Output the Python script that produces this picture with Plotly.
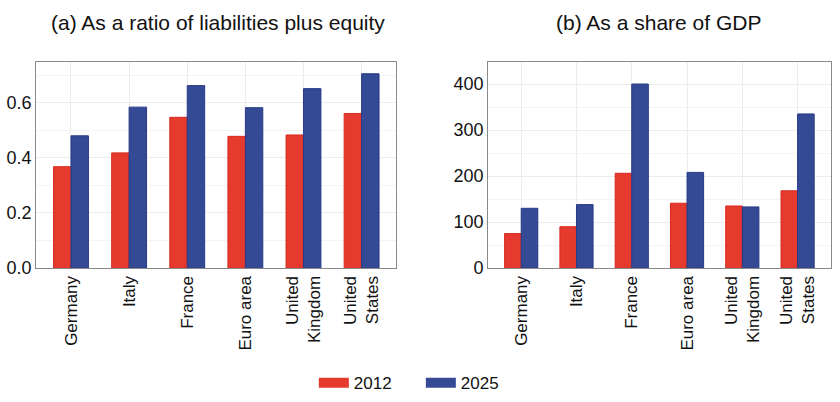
import plotly.graph_objects as go

categories = ["Germany", "Italy", "France", "Euro area", "United<br>Kingdom", "United<br>States"]
ratio_2012 = [0.368, 0.418, 0.547, 0.478, 0.483, 0.561]
ratio_2025 = [0.480, 0.584, 0.662, 0.582, 0.651, 0.705]
gdp_2012 = [75, 90, 206, 141, 135, 168]
gdp_2025 = [130, 138, 400, 208, 133, 335]
years = ["2012", "2025"]

RED = "#e63a2e"
BLUE = "#354a95"
RED_EDGE = "#d62a20"
BLUE_EDGE = "#263a88"
FONT = "Liberation Sans, Arial, sans-serif"

fig = go.Figure()
for vals, color, edge, xa, ya in [
    (ratio_2012, RED, RED_EDGE, "x", "y"),
    (ratio_2025, BLUE, BLUE_EDGE, "x", "y"),
    (gdp_2012, RED, RED_EDGE, "x2", "y2"),
    (gdp_2025, BLUE, BLUE_EDGE, "x2", "y2"),
]:
    fig.add_trace(go.Bar(x=categories, y=vals, showlegend=False,
                         marker=dict(color=color, line=dict(color=edge, width=1)),
                         xaxis=xa, yaxis=ya))

# legend entries (wide rectangular swatches)
for name, color in zip(years, [RED, BLUE]):
    fig.add_trace(go.Scatter(x=[None], y=[None], mode="lines", name=name,
                             line=dict(color=color, width=11), xaxis="x", yaxis="y"))

axis_common = dict(showline=True, mirror=True, linecolor="#8a8a8a", linewidth=1,
                   gridcolor="#ececec", ticks="", automargin=False)
xcommon = dict(axis_common, tickangle=-90, showgrid=True, fixedrange=True,
               range=[-0.6, 5.6], tickfont=dict(size=17, color="#111"))
ycommon = dict(axis_common, tickfont=dict(size=18, color="#111"), showgrid=True, zeroline=False)

fig.update_layout(
    width=840, height=402,
    margin=dict(l=0, r=0, t=0, b=0, autoexpand=False),
    paper_bgcolor="white", plot_bgcolor="white",
    font=dict(family=FONT, size=17, color="#111"),
    barmode="group", bargap=0.4, bargroupgap=0,
    xaxis=dict(xcommon, domain=[0.043, 0.472], anchor="y"),
    yaxis=dict(ycommon, domain=[0.333, 0.846], anchor="x", range=[0, 0.748],
               dtick=0.2, tickformat=".1f",
               minor=dict(dtick=0.1, showgrid=True, gridcolor="#f4f4f4")),
    xaxis2=dict(xcommon, domain=[0.581, 0.989], anchor="y2"),
    yaxis2=dict(ycommon, domain=[0.333, 0.846], anchor="x2", range=[0, 448],
                dtick=100,
                minor=dict(dtick=50, showgrid=True, gridcolor="#f4f4f4")),
    legend=dict(orientation="h", x=0.501, xanchor="center", y=0.047, yanchor="middle",
                font=dict(size=17), entrywidth=62, bgcolor="rgba(0,0,0,0)"),
    annotations=[
        dict(text="(a) As a ratio of liabilities plus equity", x=0.259, y=0.945, xref="paper", yref="paper",
             showarrow=False, font=dict(size=21, family=FONT, color="#111"), xanchor="center", yanchor="middle"),
        dict(text="(b) As a share of GDP", x=0.784, y=0.945, xref="paper", yref="paper",
             showarrow=False, font=dict(size=21, family=FONT, color="#111"), xanchor="center", yanchor="middle"),
    ],
)

fig.write_html("out.html")
